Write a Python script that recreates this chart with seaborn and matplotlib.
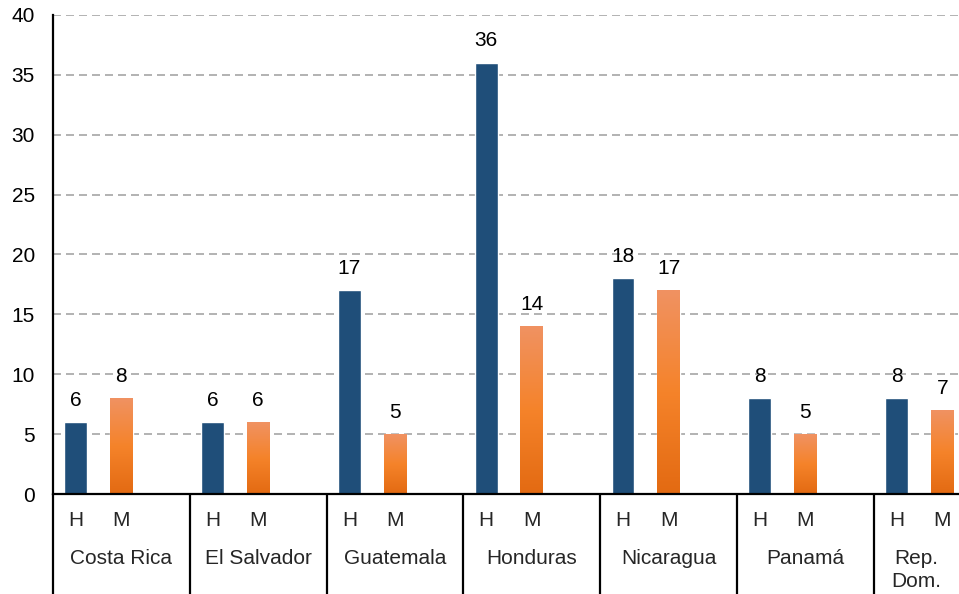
import numpy as np
import pandas as pd
import seaborn as sns
from matplotlib import pyplot as plt
from matplotlib.colors import LinearSegmentedColormap

# Datos
paises = ["Costa Rica", "El Salvador", "Guatemala", "Honduras", "Nicaragua", "Panamá", "Rep.\nDom."]
sexos = ["H", "M"]
hombres = [6, 6, 17, 36, 18, 8, 8]
mujeres = [8, 6, 5, 14, 17, 5, 7]
y_ticks = [0, 5, 10, 15, 20, 25, 30, 35, 40]

azul = "#1F4E79"
naranja_grad = ["#E36A12", "#F5832A", "#F09262"]  # bottom -> top
fs = 15

# one slot per bar plus an empty slot per country (Excel-like spacing)
order = []
for p in paises:
    order += [p + "|H", p + "|M", p + "|"]

rows = []
for p, h, m in zip(paises, hombres, mujeres):
    rows.append({"slot": p + "|H", "valor": h, "sexo": "H"})
    rows.append({"slot": p + "|M", "valor": m, "sexo": "M"})
df = pd.DataFrame(rows)

sns.set_style("white")
plt.rcParams["font.family"] = ["Liberation Sans", "DejaVu Sans"]

fig = plt.figure(figsize=(9.59, 5.94), dpi=100)
ax_h = 479 / 594
ax = fig.add_axes([53 / 959, 100 / 594, 1 - 53 / 959, ax_h])

sns.barplot(data=df, x="slot", y="valor", hue="sexo", order=order, hue_order=sexos,
            palette={"H": azul, "M": "#F5832A"}, dodge=False, width=0.5,
            saturation=1, legend=False, ax=ax)

px_per_slot = 45.6
x_max = -0.5 + (959 - 53) / px_per_slot

# gradient fill for the orange bars
cmap = LinearSegmentedColormap.from_list("nar", naranja_grad)
grad = np.linspace(0, 1, 256).reshape(-1, 1)
for bar in ax.containers[1]:
    x0, y0 = bar.get_x(), bar.get_y()
    w, hgt = bar.get_width(), bar.get_height()
    if np.isnan(hgt) or hgt == 0:
        continue
    im = ax.imshow(grad, extent=[x0, x0 + w, y0, y0 + hgt], origin="lower",
                   aspect="auto", cmap=cmap, zorder=bar.get_zorder())
    im.set_clip_path(bar)
    bar.set_facecolor("none")
ax.set_ylim(0, 40)
ax.set_xlim(-0.5, x_max)

for cont in ax.containers:
    ax.bar_label(cont, padding=9, fontsize=fs, color="black")

# axes styling
ax.set_yticks(y_ticks)
ax.tick_params(axis="y", length=0, pad=13, labelsize=fs, labelcolor="black")
ax.set_xticks([])
ax.set_xlabel("")
ax.set_ylabel("")
ax.yaxis.grid(True, color="#A6A6A6", linewidth=1.2, linestyle=(0, (4.8, 3)))
ax.set_axisbelow(True)
for s in ["top", "right"]:
    ax.spines[s].set_visible(False)
for s in ["left", "bottom"]:
    ax.spines[s].set_color("black")
    ax.spines[s].set_linewidth(1.6)

# multi-level category axis
trans = ax.get_xaxis_transform()
y_sex = (494 - 520) / 479
y_pais = (494 - 549) / 479
y_bot = -100 / 479
for g, p in enumerate(paises):
    base = 3 * g
    for k, s in enumerate(sexos):
        ax.text(base + k, y_sex, s, transform=trans, ha="center", va="center",
                fontsize=fs, clip_on=False)
    # last group is cut by the figure edge: centre its name in the visible part
    x_lab = base + 1 if base + 2.5 <= x_max else (base - 0.5 + x_max) / 2
    ax.text(x_lab, y_pais, p, transform=trans, ha="center", va="top",
            fontsize=fs, linespacing=1.25, clip_on=False)
    ax.plot([base - 0.5, base - 0.5], [0, y_bot], transform=trans, color="black",
            linewidth=1.6, clip_on=False, solid_capstyle="butt")

fig.savefig("out.png", dpi=100)
